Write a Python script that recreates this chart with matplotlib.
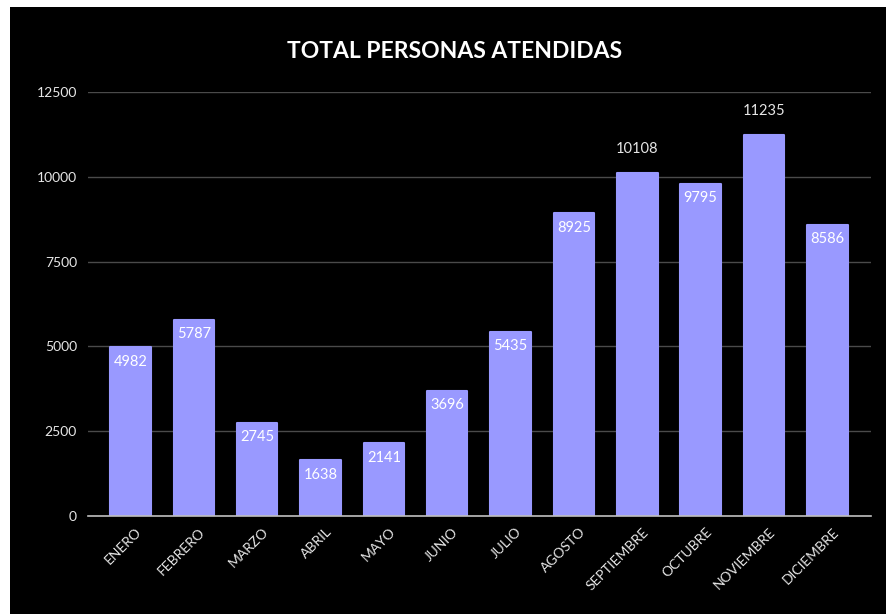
import matplotlib
matplotlib.use("Agg")
from matplotlib import pyplot as plt
from matplotlib.patches import Rectangle
from matplotlib.transforms import ScaledTranslation

meses = ["ENERO", "FEBRERO", "MARZO", "ABRIL", "MAYO", "JUNIO", "JULIO",
         "AGOSTO", "SEPTIEMBRE", "OCTUBRE", "NOVIEMBRE", "DICIEMBRE"]
personas = [4982, 5787, 2745, 1638, 2141, 3696, 5435, 8925, 10108, 9795, 11235, 8586]
y_ticks = [0, 2500, 5000, 7500, 10000, 12500]
# labels that sit above the bar instead of inside its end
label_fuera = [False, False, False, False, False, False, False, False, True, False, True, False]

plt.rcParams["font.family"] = ["Lato", "DejaVu Sans"]

BAR = "#9999ff"
fig = plt.figure(figsize=(8.87, 6.14), dpi=100, facecolor="white")
fondo = Rectangle((10 / 887, 0), 1, 1 - 7 / 614, transform=fig.transFigure,
                  facecolor="black", edgecolor="none", zorder=-10)
fig.patches.append(fondo)

ax = fig.add_axes([88 / 887, 1 - 516 / 614, (871 - 88) / 887, (516 - 92) / 614])
ax.set_zorder(1)
ax.set_facecolor("black")
ax.patch.set_alpha(0)

x = list(range(len(meses)))
ax.bar(x, personas, width=0.64, color=BAR, edgecolor=BAR, linewidth=1.5,
       joinstyle="round", zorder=3)

ax.set_xlim(-0.67, 11.69)
ax.set_ylim(0, 12500)
ax.set_yticks(y_ticks)
ax.set_yticklabels([str(v) for v in y_ticks], color="#e6e6e6", fontsize=10)
ax.tick_params(axis="y", length=0, pad=8)
ax.grid(axis="y", color="#4a4a4a", linewidth=1, zorder=0)
for s in ["top", "right", "left"]:
    ax.spines[s].set_visible(False)
ax.spines["bottom"].set_color("#bfbfbf")
ax.spines["bottom"].set_linewidth(1.2)
ax.spines["bottom"].set_zorder(4)

ax.set_xticks(x)
ax.set_xticklabels(meses, rotation=45, ha="right", va="top", rotation_mode="anchor",
                   color="#e6e6e6", fontsize=10)
ax.tick_params(axis="x", length=0, pad=4)
off = ScaledTranslation(5 / 100, -4 / 100, fig.dpi_scale_trans)
for lbl in ax.get_xticklabels():
    lbl.set_transform(lbl.get_transform() + off)

for xi, v, fuera in zip(x, personas, label_fuera):
    if fuera:
        ax.annotate(str(v), (xi, v), xytext=(0, 17.5), textcoords="offset points",
                    ha="center", va="center", color="#e6e6e6", fontsize=10.5)
    else:
        ax.annotate(str(v), (xi, v), xytext=(0, -10.5), textcoords="offset points",
                    ha="center", va="center", color="white", fontsize=10.5, zorder=5)

fig.text(455 / 887, 1 - 51 / 614, "TOTAL PERSONAS ATENDIDAS", ha="center", va="center",
         color="white", fontsize=16.5, fontweight="bold", zorder=5)

fig.savefig("out.png", dpi=100, facecolor="white")
